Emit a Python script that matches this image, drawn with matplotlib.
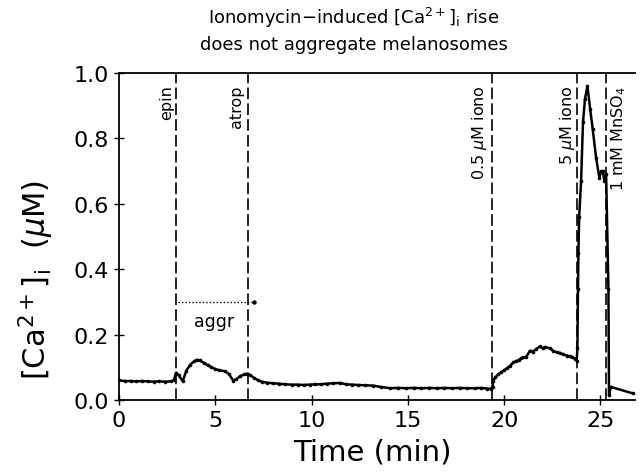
import matplotlib
matplotlib.use("Agg")
import matplotlib.pyplot as plt

# ---- data ----
time_min = [0.0, 0.3, 0.6, 0.9, 1.2, 1.5, 1.8, 2.1, 2.4, 2.7, 2.85,
            2.96, 3.1, 3.31, 3.5, 3.7, 3.9, 4.04, 4.2, 4.4, 4.6, 4.8, 4.99,
            5.2, 5.5, 5.7, 5.94, 6.1, 6.3, 6.5, 6.63, 6.8, 7.0, 7.2, 7.41,
            7.7, 8.0, 8.3, 8.6, 8.97, 9.3, 9.6, 9.9, 10.2, 10.5, 10.8, 11.1,
            11.48, 11.8, 12.1, 12.4, 12.8, 13.2, 13.6, 14.08, 14.5, 14.9,
            15.3, 15.7, 16.1, 16.5, 16.9, 17.3, 17.7, 18.1, 18.5, 18.8,
            19.1, 19.3,
            19.4, 19.44, 19.55, 19.7, 19.85, 20.0, 20.15, 20.3, 20.48,
            20.6, 20.75, 20.9, 21.0, 21.15, 21.35, 21.5, 21.65, 21.87,
            22.0, 22.15, 22.39, 22.55, 22.73, 22.9, 23.05, 23.25, 23.4,
            23.55, 23.7, 23.77,
            23.81, 23.84, 23.86, 23.9, 24.0, 24.1, 24.2, 24.33, 24.47,
            24.6, 24.78, 24.95, 25.05, 25.13, 25.21, 25.3, 25.42, 25.45,
            25.54, 26.7]
ca_uM = [0.060, 0.058, 0.058, 0.057, 0.058, 0.057, 0.056, 0.057, 0.056,
         0.057, 0.060,
         0.083, 0.075, 0.058, 0.090, 0.108, 0.118, 0.123, 0.121, 0.114,
         0.107, 0.100, 0.095, 0.091, 0.088, 0.080, 0.059, 0.064, 0.073,
         0.078, 0.080, 0.077, 0.068, 0.061, 0.056,
         0.053, 0.051, 0.050, 0.048, 0.047, 0.047, 0.046, 0.047, 0.048,
         0.048, 0.050, 0.051, 0.052, 0.048, 0.047, 0.046, 0.045, 0.044,
         0.040, 0.036, 0.037, 0.036, 0.037, 0.036, 0.037, 0.036, 0.037,
         0.036, 0.037, 0.036, 0.036, 0.037, 0.035, 0.034,
         0.040, 0.059, 0.070, 0.078, 0.085, 0.091, 0.097, 0.104, 0.115,
         0.118, 0.122, 0.128, 0.130, 0.132, 0.151, 0.148, 0.155, 0.164,
         0.158, 0.162, 0.158, 0.150, 0.146, 0.144, 0.140, 0.136, 0.134,
         0.130, 0.126, 0.120,
         0.160, 0.340, 0.450, 0.560, 0.670, 0.850, 0.920, 0.960, 0.890,
         0.830, 0.740, 0.680, 0.700, 0.700, 0.670, 0.690, 0.340, 0.015,
         0.040, 0.020]

event_times = [2.98, 6.68, 19.38, 23.8, 25.3]
event_labels = ["epin", "atrop", r"0.5 $\mu$M iono", r"5 $\mu$M iono",
                r"1 mM MnSO$_\mathregular{4}$"]
event_label_x = [2.45, 6.12, 18.72, 23.3, 25.96]

aggr_start, aggr_end, aggr_level = 3.06, 7.0, 0.30

x_ticks = [0, 5, 10, 15, 20, 25]
y_ticks = [0.0, 0.2, 0.4, 0.6, 0.8, 1.0]

# ---- figure ----
fig = plt.figure(figsize=(6.4, 4.77), dpi=100)
ax = fig.add_axes([119/640, 1 - 401/477, (635-119)/640, (401-74)/477])

ax.plot(time_min, ca_uM, color="black", lw=1.8, marker="o", ms=2.6,
        markeredgewidth=0)

for tx in event_times:
    ax.axvline(tx, color="black", lw=1.2, dashes=(7, 2.5))

for lx, lab in zip(event_label_x, event_labels):
    ax.text(lx, 0.965, lab, rotation=90, ha="center", va="top", fontsize=11.5)

ax.plot([aggr_start, aggr_end], [aggr_level, aggr_level], color="black",
        lw=1.0, ls=(0, (1, 1.5)), marker="o", ms=2.2, markevery=[1])
ax.text((aggr_start + aggr_end) / 2 - 0.1, aggr_level - 0.03, "aggr",
        ha="center", va="top", fontsize=12.5)

ax.set_xlim(0, 26.8)
ax.set_ylim(0, 1.0)
ax.set_xticks(x_ticks)
ax.set_yticks(y_ticks)
ax.set_yticklabels([f"{v:.1f}" for v in y_ticks])
ax.tick_params(direction="inout", length=7, width=1, labelsize=16)
ax.spines["right"].set_visible(False)
for s in ["left", "bottom", "top"]:
    ax.spines[s].set_linewidth(1.3)

fig.text(372/640, 1 - 453/477, "Time (min)", ha="center", va="center",
         fontsize=21)
fig.text(36/640, 1 - 280/477, r"[Ca$^{2+}$]$_\mathregular{i}$  ($\mu$M)",
         rotation=90, ha="center", va="center", fontsize=22)
fig.text(354/640, 1 - 18/477, r"Ionomycin$-$induced [Ca$^{2+}$]$_\mathregular{i}$ rise",
         ha="center", va="center", fontsize=13)
fig.text(354/640, 1 - 45/477, "does not aggregate melanosomes",
         ha="center", va="center", fontsize=13)

fig.savefig("out.png", dpi=100)
